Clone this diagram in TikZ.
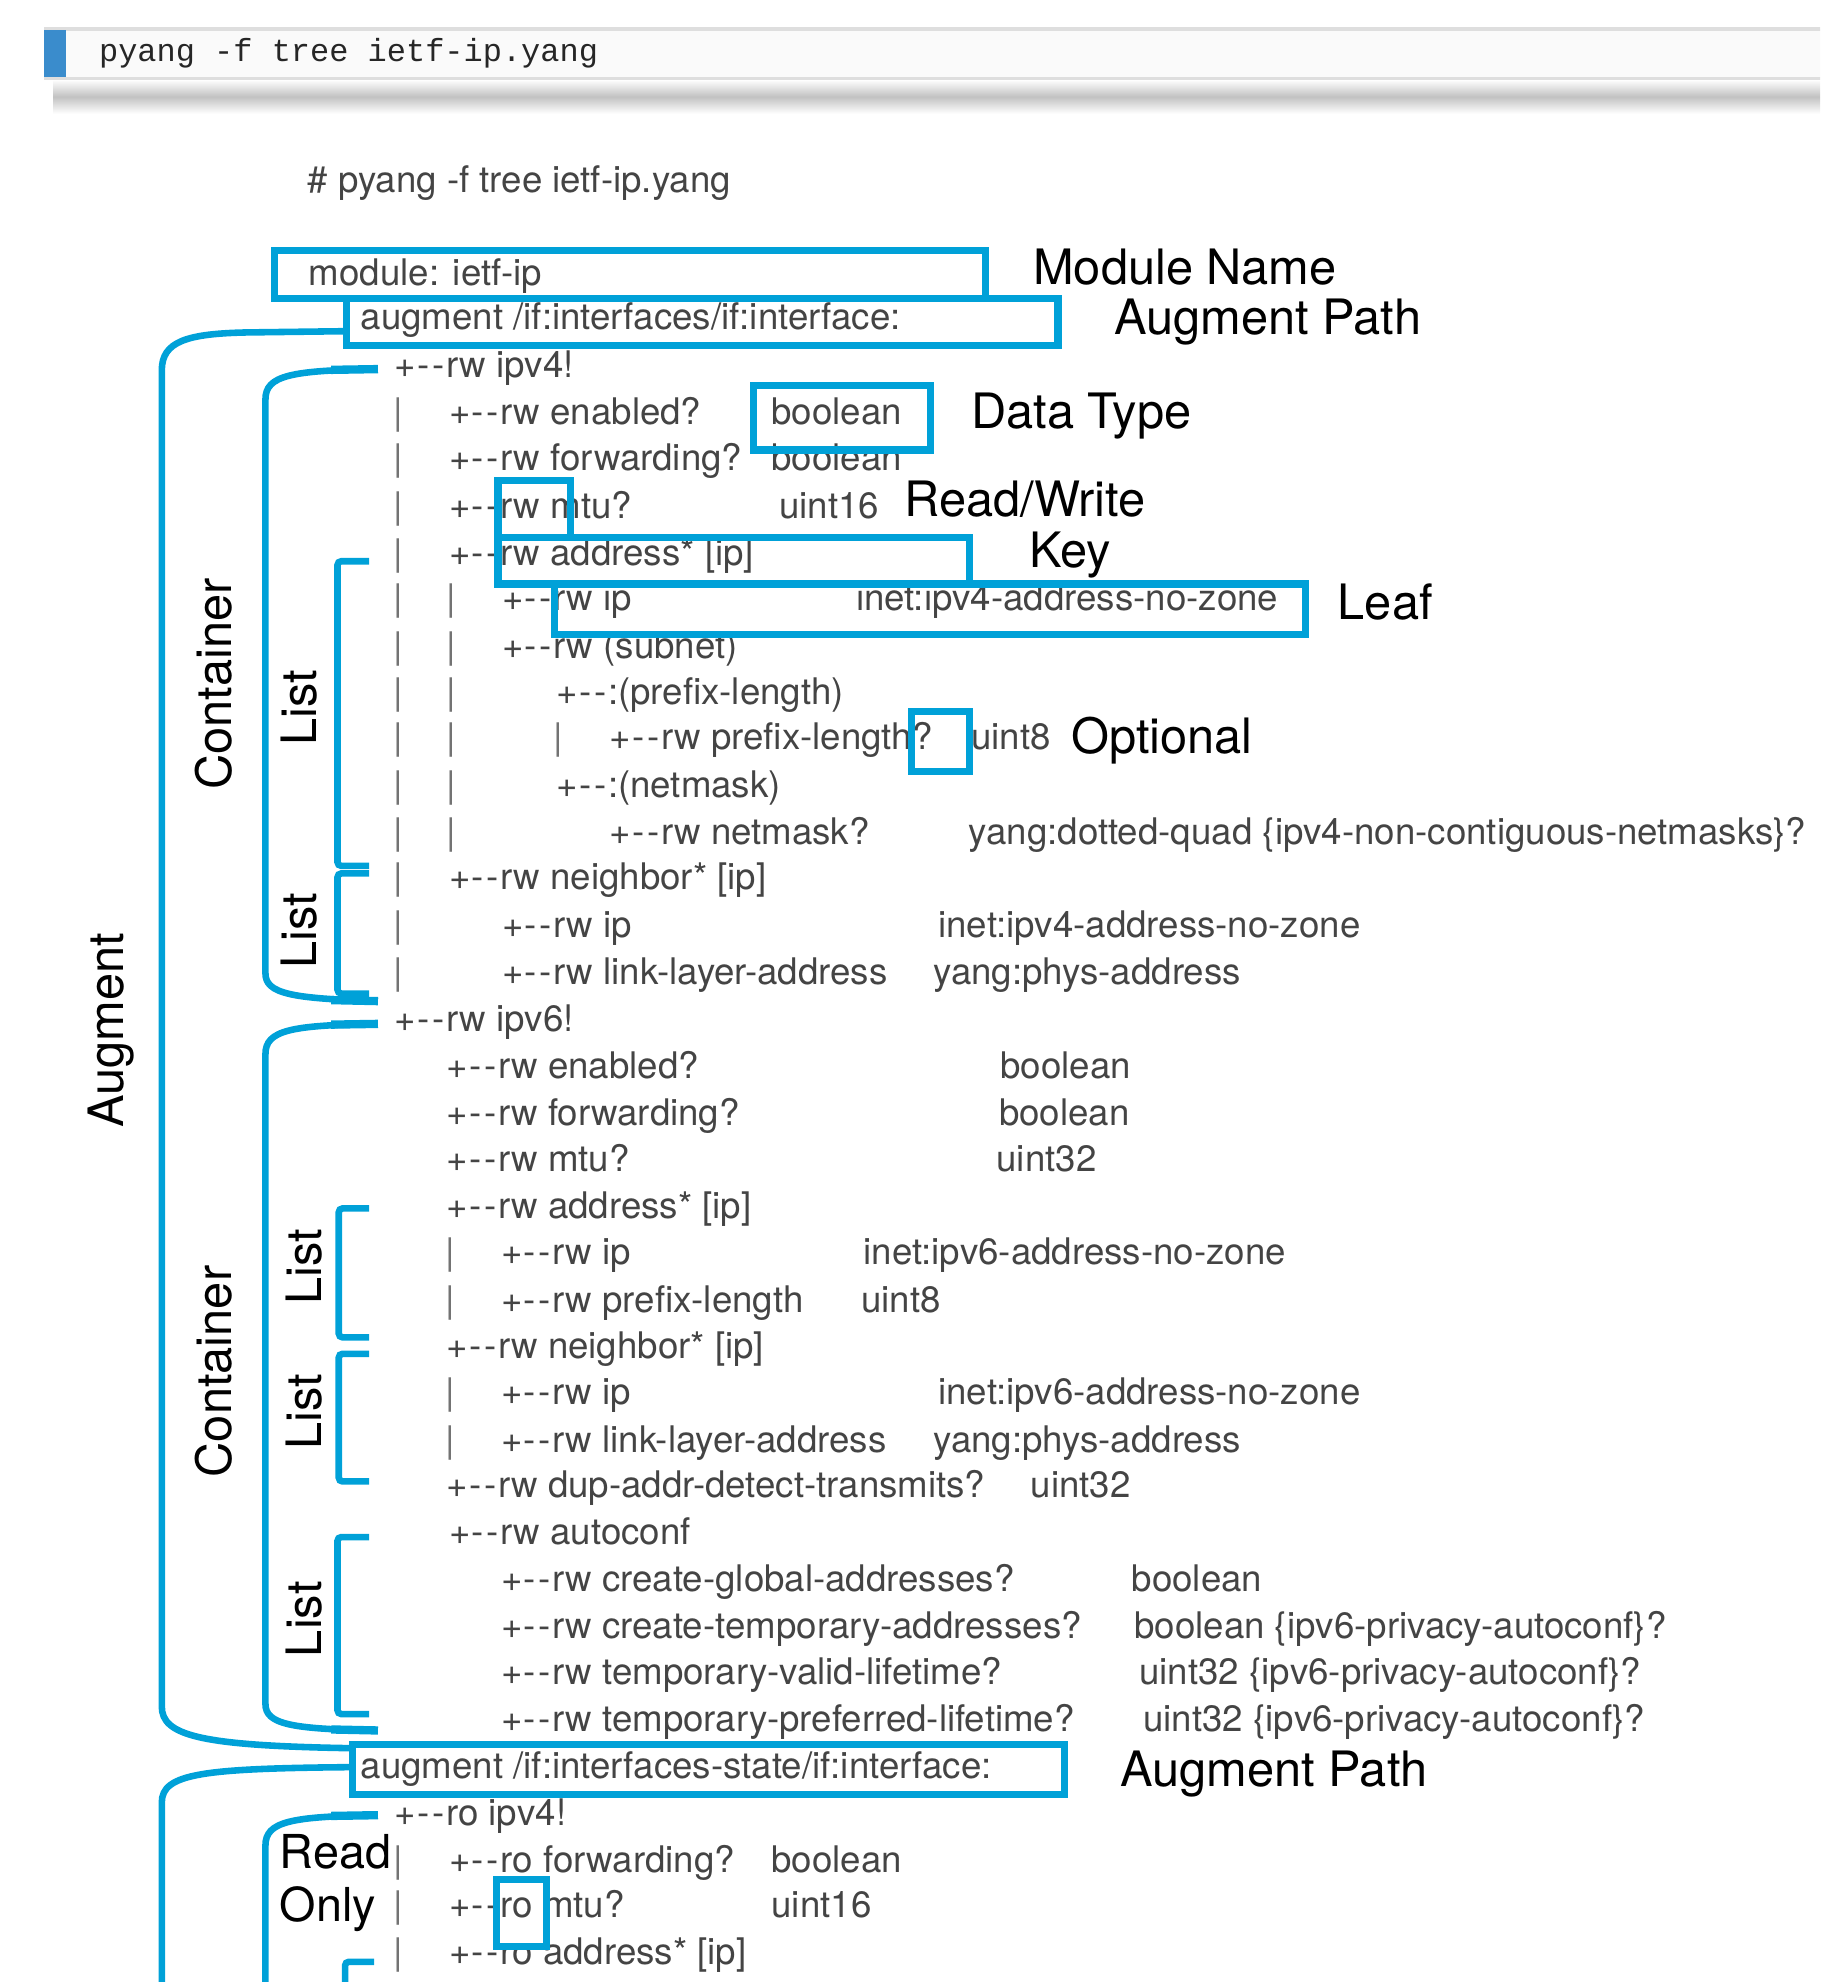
\documentclass[tikz,border=0pt]{standalone}
\usepackage{fontspec}
\setmainfont{TeX Gyre Heros}[Ligatures=TeXOff]
\newfontfamily\codefont{Liberation Mono}[Ligatures=TeXOff]
\usepackage{xcolor}
\usepackage{tikz}

\definecolor{ciscoblue}{RGB}{0,161,216}
\definecolor{barblue}{RGB}{58,140,204}
\definecolor{treegray}{RGB}{68,68,68}
\newcommand{\tbr}{+\kern0.5pt-\kern1.1pt-\kern0.6pt}

\tikzset{
  tree/.style={anchor=base west, inner sep=0pt, text=treegray, font=\fontsize{14.5}{17}\selectfont},
  pipe/.style={tree, anchor=base, text=black!55},
  lbl/.style={anchor=base west, inner sep=0pt, text=black, font=\fontsize{19.3}{23}\selectfont},
  rot/.style={lbl, rotate=90, anchor=base},
  hl/.style={draw=ciscoblue, line width=2.8pt},
  brace/.style={draw=ciscoblue, line width=2.6pt},
  braceend/.style={draw=ciscoblue, line width=3.3pt},
  listbr/.style={brace, rounded corners=1.5pt},
}

\begin{document}
\begin{tikzpicture}[x=0.5pt,y=0.5pt,yscale=-1,xscale=1]

\useasboundingbox (0,0) rectangle (1440,1568);
\clip (0,0) rectangle (1440,1568);

\shade[top color=white, bottom color=white, middle color=black!24] (42,63) rectangle (1445,90);
\fill[black!2] (35,23) rectangle (1445,62);
\draw[black!13, line width=1.3pt] (35,23) -- (1445,23);
\draw[black!13, line width=1.3pt] (35,62) -- (1445,62);
\fill[barblue] (35,24) rectangle (52,61);
\draw (78,49) node (cmd) [anchor=base west, inner sep=0pt, font=\codefont\fontsize{12.65}{15}\selectfont, text=black!85] {pyang -f tree ietf-ip.yang};

\draw (243,152) node (prompt) [tree] {\# pyang -f tree ietf-ip.yang};
\draw (244,226) node (module) [tree] {module: ietf-ip};
\draw (285,261) node (augA) [tree] {augment /if:interfaces/if:interface:};

\draw (312,299) node (r1) [tree] {\tbr rw ipv4!};
\draw (355,336) node (r2) [tree] {\tbr rw enabled?};
\draw (610,336) node (r2t) [tree] {boolean};
\draw (355,372) node (r3) [tree] {\tbr rw forwarding?};
\draw (610,372) node (r3t) [tree] {boolean};
\draw (355,410) node (r4) [tree] {\tbr rw mtu?};
\draw (616,410) node (r4t) [tree] {uint16};
\draw (355,447) node (r5) [tree] {\tbr rw address* [ip]};
\draw (397,483) node (r6) [tree] {\tbr rw ip};
\draw (677,483) node (r6t) [tree] {inet:ipv4-address-no-zone};
\draw (397,521) node (r7) [tree] {\tbr rw (subnet)};
\draw (440,557) node (r8) [tree] {\tbr:(prefix-length)};
\draw (482,593) node (r9) [tree] {\tbr rw prefix-length?};
\draw (768,593) node (r9t) [tree] {uint8};
\draw (440,631) node (r10) [tree] {\tbr:(netmask)};
\draw (482,668) node (r11) [tree] {\tbr rw netmask?};
\draw (766,668) node (r11t) [tree] {yang:dotted-quad \{ipv4-non-contiguous-netmasks\}?};
\draw (355,704) node (r12) [tree] {\tbr rw neighbor* [ip]};
\draw (397,742) node (r13) [tree] {\tbr rw ip};
\draw (742,742) node (r13t) [tree] {inet:ipv4-address-no-zone};
\draw (397,779) node (r14) [tree] {\tbr rw link-layer-address};
\draw (738,779) node (r14t) [tree] {yang:phys-address};

\foreach \y [count=\i] in {336,372,410,447,483,521,557,593,631,668,704,742,779}
  \draw (315,\y) node (pa\i) [pipe] {|};
\foreach \y [count=\i] in {483,521,557,593,631,668}
  \draw (357,\y) node (pb\i) [pipe] {|};
\draw (442,593) node (pc1) [pipe] {|};

\draw (312,816) node (r15) [tree] {\tbr rw ipv6!};
\draw (353,853) node (r16) [tree] {\tbr rw enabled?};
\draw (791,853) node (r16t) [tree] {boolean};
\draw (353,890) node (r17) [tree] {\tbr rw forwarding?};
\draw (790,890) node (r17t) [tree] {boolean};
\draw (353,927) node (r18) [tree] {\tbr rw mtu?};
\draw (788,927) node (r18t) [tree] {uint32};
\draw (353,964) node (r19) [tree] {\tbr rw address* [ip]};
\draw (396,1000) node (r20) [tree] {\tbr rw ip};
\draw (683,1000) node (r20t) [tree] {inet:ipv6-address-no-zone};
\draw (396,1038) node (r21) [tree] {\tbr rw prefix-length};
\draw (681,1038) node (r21t) [tree] {uint8};
\draw (353,1075) node (r22) [tree] {\tbr rw neighbor* [ip]};
\draw (396,1111) node (r23) [tree] {\tbr rw ip};
\draw (742,1111) node (r23t) [tree] {inet:ipv6-address-no-zone};
\draw (396,1149) node (r24) [tree] {\tbr rw link-layer-address};
\draw (738,1149) node (r24t) [tree] {yang:phys-address};
\draw (353,1185) node (r25) [tree] {\tbr rw dup-addr-detect-transmits?};
\draw (815,1185) node (r25t) [tree] {uint32};
\draw (355,1222) node (r26) [tree] {\tbr rw autoconf};
\draw (396,1259) node (r27) [tree] {\tbr rw create-global-addresses?};
\draw (895,1259) node (r27t) [tree] {boolean};
\draw (396,1296) node (r28) [tree] {\tbr rw create-temporary-addresses?};
\draw (897,1296) node (r28t) [tree] {boolean \{ipv6-privacy-autoconf\}?};
\draw (396,1333) node (r29) [tree] {\tbr rw temporary-valid-lifetime?};
\draw (901,1333) node (r29t) [tree] {uint32 \{ipv6-privacy-autoconf\}?};
\draw (396,1370) node (r30) [tree] {\tbr rw temporary-preferred-lifetime?};
\draw (904,1370) node (r30t) [tree] {uint32 \{ipv6-privacy-autoconf\}?};

\foreach \y [count=\i] in {1000,1038,1111,1149}
  \draw (356,\y) node (pd\i) [pipe] {|};

\draw (285,1407) node (augB) [tree] {augment /if:interfaces-state/if:interface:};
\draw (312,1444) node (r32) [tree] {\tbr ro ipv4!};
\draw (355,1481) node (r33) [tree] {\tbr ro forwarding?};
\draw (610,1481) node (r33t) [tree] {boolean};
\draw (355,1517) node (r34) [tree] {\tbr ro mtu?};
\draw (610,1517) node (r34t) [tree] {uint16};
\draw (355,1554) node (r35) [tree] {\tbr ro address* [ip]};
\foreach \y [count=\i] in {1481,1517,1554}
  \draw (315,\y) node (pe\i) [pipe] {|};

\draw[hl] (217,198) rectangle (780,236);
\draw[hl] (274,236) rectangle (837,273);
\draw[hl] (596,305) rectangle (736,356);
\draw[hl] (394,380) rectangle (451,425);
\draw[hl] (394,425) rectangle (767,462);
\draw[hl] (439,462) rectangle (1033,502);
\draw[hl] (721,563) rectangle (767,610);
\draw[hl] (279,1380) rectangle (842,1420);
\draw[hl] (393,1487) rectangle (432,1540);

\draw (817,225) node (lmod) [lbl] {Module Name};
\draw (881,265) node (laugA) [lbl] {Augment Path};
\draw (768,339) node (ltype) [lbl] {Data Type};
\draw (715,409) node (lrw) [lbl] {Read/Write};
\draw (814,449) node (lkey) [lbl] {Key};
\draw (1058,490) node (lleaf) [lbl] {Leaf};
\draw (847,596) node (lopt) [lbl] {Optional};
\draw (886,1413) node (laugB) [lbl] {Augment Path};
\draw (221,1478) node (lread) [lbl, font=\fontsize{18.5}{22}\selectfont] {Read};
\draw (221,1520) node (lonly) [lbl, font=\fontsize{18.5}{22}\selectfont] {Only};

\draw (98,815) node (raug) [rot] {Augment};
\draw (183,541) node (rconA) [rot] {Container};
\draw (250,560) node (rlistA) [rot] {List};
\draw (250,736) node (rlistB) [rot] {List};
\draw (183,1085) node (rconB) [rot] {Container};
\draw (254,1002) node (rlistC) [rot] {List};
\draw (254,1117) node (rlistD) [rot] {List};
\draw (254,1281) node (rlistE) [rot] {List};

\draw[brace] (274,262) -- (195,263) .. controls (148,264) and (128,270) .. (128,293) -- (128,1350) .. controls (128,1373) and (158,1381) .. (277,1383);
\draw[brace] (279,1398) .. controls (160,1399) and (128,1403) .. (128,1426) -- (128,1575);

\draw[brace] (299,292) .. controls (230,293) and (210,297) .. (210,316) -- (210,770) .. controls (210,786) and (230,790) .. (299,792);
\draw[brace] (299,810) .. controls (230,811) and (210,815) .. (210,834) -- (210,1348) .. controls (210,1364) and (230,1368) .. (299,1369);
\draw[brace] (299,1436) .. controls (230,1437) and (210,1441) .. (210,1460) -- (210,1575);
\draw[braceend] (299,292) -- (262,292.6);
\draw[braceend] (299,792) -- (262,791.2);
\draw[braceend] (299,810) -- (262,810.6);
\draw[braceend] (299,1369) -- (262,1368.2);
\draw[braceend] (299,1436) -- (262,1436.6);

\draw[listbr] (292,444) -- (267,444) -- (267,685) -- (292,685);
\draw[listbr] (292,691) -- (267,691) -- (267,786) -- (292,786);
\draw[listbr] (292,956) -- (268,956) -- (268,1058) -- (292,1058);
\draw[listbr] (292,1071) -- (268,1071) -- (268,1172) -- (292,1172);
\draw[listbr] (292,1216) -- (267,1216) -- (267,1356) -- (292,1356);
\draw[listbr] (296,1552) -- (273,1552) -- (273,1575);

\end{tikzpicture}
\end{document}
